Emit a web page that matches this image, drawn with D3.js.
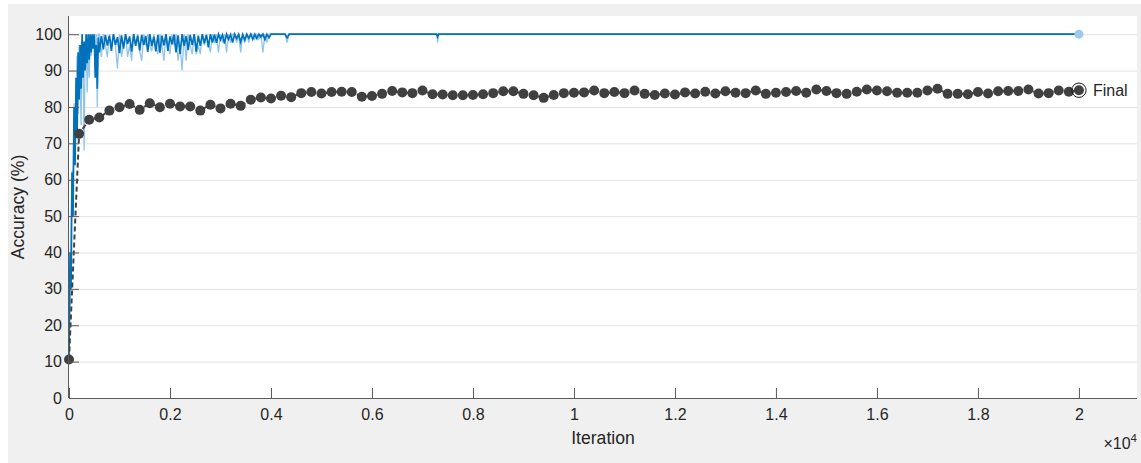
<!DOCTYPE html>
<html>
<head>
<meta charset="utf-8">
<script src="https://cdn.jsdelivr.net/npm/d3@7"></script>
<style>
  html, body { margin: 0; padding: 0; background: #ffffff; }
  svg { display: block; }
  text { font-family: "Liberation Sans", Arial, Helvetica, sans-serif; }
</style>
</head>
<body>
<svg id="chart" width="1141" height="463"></svg>
<script>
// ---------- DATA ----------
// Validation accuracy, every 200 iterations (0 .. 20000)
const valIter = d3.range(0, 20001, 200);
const valAcc = [
  10.6, 72.6, 76.5, 77.1, 79.0, 79.9, 80.8, 79.2, 81.0, 79.9,
  80.9, 80.1, 80.1, 79.0, 80.6, 79.6, 80.9, 80.3, 82.0, 82.6,
  82.3, 83.1, 82.7, 83.8, 84.1, 83.7, 84.1, 84.2, 84.1, 82.8,
  83.0, 83.6, 84.4, 84.0, 83.8, 84.5, 83.5, 83.4, 83.2, 83.2,
  83.3, 83.5, 83.8, 84.3, 84.3, 83.6, 83.2, 82.5, 83.3, 83.8,
  83.9, 84.0, 84.5, 83.8, 84.1, 83.8, 84.5, 83.6, 83.3, 83.7,
  83.4, 84.0, 83.7, 84.2, 83.7, 84.3, 83.9, 83.8, 84.5, 83.6,
  83.9, 84.1, 84.4, 83.9, 84.8, 84.4, 83.8, 83.6, 84.2, 84.8,
  84.5, 84.3, 83.9, 83.9, 83.9, 84.5, 85.0, 83.6, 83.6, 83.5,
  84.1, 83.7, 84.3, 84.4, 84.4, 84.8, 83.7, 83.8, 84.5, 84.2,
  84.6
];

// Training accuracy (raw mini-batch and smoothed), sampled iterations
const trainIter = [].concat(
  d3.range(0, 601, 20),
  d3.range(640, 4401, 40),
  [7280, 7300, 7320, 20000]
);
const trainRaw = [
  10, 25, 45, 62.5, 56, 81, 72, 85, 94, 78,
  97, 88, 75, 97, 92, 68, 97, 100, 84, 97,
  88, 100, 94, 100, 97, 100, 90, 100, 80, 100, 100,
  // 640 .. 4400 step 40
  93.75, 100, 96.9, 93.75, 100, 96.9, 100, 96.9, 90.6, 100,
  93.75, 96.9, 100, 93.75, 96.9, 92.7, 100, 96.9, 100, 95.3,
  92.7, 100, 96.9, 100, 96.9, 95.3, 100, 96.9, 94.5, 100,
  96.9, 92.7, 100, 96.9, 94.5, 100, 96.9, 100, 92.7, 96.9,
  90, 100, 92.7, 100, 96.9, 94.5, 100, 94.5, 96.9, 94.5,
  100, 96.9, 100, 97.7, 95, 100, 97.7, 100, 95, 100,
  97.7, 100, 95, 100, 97.7, 100, 100, 97.7, 100, 95,
  100, 97.7, 100, 97.7, 100, 100, 98.6, 100, 98.6, 100,
  95, 100, 97.7, 100, 100, 100, 100, 100, 100, 100,
  100, 100, 97.7, 100, 100,
  // sparse tail
  100, 97.7, 100, 100
];
const trainSmooth = [
  10, 40, 30, 62, 50, 80, 64, 88, 72, 95,
  82, 97, 85, 100, 88, 98, 90, 100, 92, 100,
  93, 100, 95, 100, 96, 100, 88, 97, 85, 99, 95,
  // 640 .. 4400 step 40
  99.5, 95.8, 99.8, 96.9, 99.6, 95.4, 100, 97.1, 99.2, 94.8,
  99.7, 96.0, 100, 97.3, 99.4, 95.2, 100, 96.8, 99.6, 95.5,
  99.8, 97.0, 99.5, 95.1, 100, 96.7, 99.3, 95.3, 99.8, 94.9,
  99.6, 96.9, 100, 95.4, 99.4, 97.2, 99.9, 95.0, 99.7, 94.6,
  100, 96.8, 99.5, 95.6, 99.8, 97.0, 100, 95.2, 99.6, 96.8,
  100, 97.5, 99.8, 96.4, 100, 97.7, 99.9,
  97.6, 100, 98.5, 99.8, 97.4, 100, 98.6, 99.9, 97.7, 100,
  98.8, 100, 97.8, 99.9, 98.4, 100, 98.9, 100, 98.6,
  100, 98.8, 100, 99.2, 100, 98.5, 100, 99.0, 100, 100,
  100, 100, 100, 100, 100, 100, 99.0, 100, 100,
  // sparse tail
  100, 99.3, 100, 100
];

const yTicks = [0, 10, 20, 30, 40, 50, 60, 70, 80, 90, 100];
const xTicks = [0, 2000, 4000, 6000, 8000, 10000, 12000, 14000, 16000, 18000, 20000];
const xTickLabels = ["0", "0.2", "0.4", "0.6", "0.8", "1", "1.2", "1.4", "1.6", "1.8", "2"];

// ---------- DRAW ----------
const svg = d3.select("#chart");
const W = 1141, H = 463;
const L = 69, R = 1137, T = 16, B = 398;

const x = d3.scaleLinear().domain([0, 21150]).range([L, R]);
const y = d3.scaleLinear().domain([0, 105]).range([B, T]);

// figure background
svg.append("rect").attr("x", 0).attr("y", 0).attr("width", W).attr("height", H).attr("fill", "#ffffff");
svg.append("rect").attr("x", 8).attr("y", 4).attr("width", W - 8).attr("height", H - 4).attr("fill", "#f0f0f0");
// axes background
svg.append("rect").attr("x", L).attr("y", T).attr("width", R - L).attr("height", B - T).attr("fill", "#ffffff");

// grid lines
svg.append("g").selectAll("line").data(yTicks.filter(d => d > 0)).join("line")
  .attr("x1", L).attr("x2", R)
  .attr("y1", d => y(d) + 0.5).attr("y2", d => y(d) + 0.5)
  .attr("stroke", "#e3e3e3").attr("stroke-width", 1);

// training raw
const trainPts = trainIter.map((it, i) => ({ it, raw: trainRaw[i], sm: trainSmooth[i] }));
svg.append("path").datum(trainPts)
  .attr("fill", "none").attr("stroke", "#93c4ea").attr("stroke-width", 1.3)
  .attr("d", d3.line().x(d => x(d.it)).y(d => y(d.raw)));
// training smoothed
svg.append("path").datum(trainPts)
  .attr("fill", "none").attr("stroke", "#0072bd").attr("stroke-width", 1.7)
  .attr("d", d3.line().x(d => x(d.it)).y(d => y(d.sm)));
// final training marker
svg.append("circle")
  .attr("cx", x(trainIter[trainIter.length - 1])).attr("cy", y(trainRaw[trainRaw.length - 1]))
  .attr("r", 4.5).attr("fill", "#9ccaee");

// validation
const valPts = valIter.map((it, i) => ({ it, v: valAcc[i] }));
svg.append("path").datum(valPts)
  .attr("fill", "none").attr("stroke", "#404040").attr("stroke-width", 2)
  .attr("stroke-dasharray", "5,3")
  .attr("d", d3.line().x(d => x(d.it)).y(d => y(d.v)));
svg.append("g").selectAll("circle").data(valPts).join("circle")
  .attr("cx", d => x(d.it)).attr("cy", d => y(d.v))
  .attr("r", 5).attr("fill", "#404040");

// final validation marker
const last = valPts[valPts.length - 1];
svg.append("circle").attr("cx", x(last.it)).attr("cy", y(last.v))
  .attr("r", 7.2).attr("fill", "none").attr("stroke", "#1a1a1a").attr("stroke-width", 1);
svg.append("text").attr("x", x(last.it) + 14).attr("y", y(last.v) + 6)
  .attr("font-size", 16).attr("fill", "#262626").text("Final");

// axes
const xAxis = d3.axisBottom(x).tickValues(xTicks)
  .tickFormat((d, i) => xTickLabels[i]).tickSizeInner(-10).tickSizeOuter(0).tickPadding(11);
const gx = svg.append("g").attr("transform", `translate(0,${B})`).call(xAxis);
gx.select(".domain").attr("stroke", "#5a5a5a").attr("d", `M${L},0.5H${R}`);
gx.selectAll(".tick line").attr("stroke", "#5a5a5a");
gx.selectAll(".tick text").attr("font-size", 16).attr("fill", "#262626")
  .attr("font-family", "Liberation Sans, Arial, sans-serif");

const yAxis = d3.axisLeft(y).tickValues(yTicks)
  .tickSizeInner(-10).tickSizeOuter(0).tickPadding(7);
const gy = svg.append("g").attr("transform", `translate(${L},0)`).call(yAxis);
gy.select(".domain").attr("stroke", "#5a5a5a").attr("d", `M-0.5,${T}V${B}`);
gy.selectAll(".tick line").attr("stroke", "#5a5a5a");
gy.selectAll(".tick text").attr("font-size", 16).attr("fill", "#262626")
  .attr("font-family", "Liberation Sans, Arial, sans-serif");

// axis labels
svg.append("text").attr("x", (L + R) / 2).attr("y", 444)
  .attr("text-anchor", "middle").attr("font-size", 17.6).attr("fill", "#262626").text("Iteration");
svg.append("text").attr("transform", `translate(24,${(T + B) / 2}) rotate(-90)`)
  .attr("text-anchor", "middle").attr("font-size", 17.6).attr("fill", "#262626").text("Accuracy (%)");

// exponent label
const ex = svg.append("text").attr("x", R).attr("y", 449)
  .attr("text-anchor", "end").attr("font-size", 16).attr("fill", "#262626");
ex.append("tspan").text("\u00d710");
ex.append("tspan").attr("dy", -7).attr("font-size", 11.5).text("4");
</script>
</body>
</html>
